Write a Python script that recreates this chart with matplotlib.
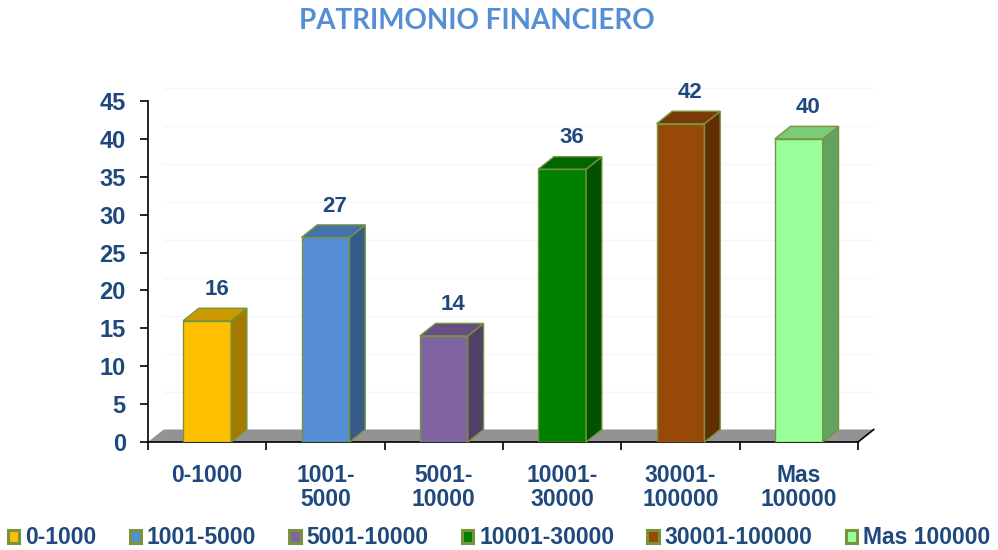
import numpy as np
import matplotlib.pyplot as plt
from matplotlib.patches import Polygon, Patch
from matplotlib.colors import to_rgb

categories = ['0-1000', '1001-5000', '5001-10000', '10001-30000', '30001-100000', 'Mas 100000']
tick_labels = ['0-1000', '1001-\n5000', '5001-\n10000', '10001-\n30000', '30001-\n100000', 'Mas\n100000']
values = [16, 27, 14, 36, 42, 40]
colors = ['#FFC000', '#558ED5', '#8064A2', '#008000', '#984807', '#99FF99']

text_blue = '#1F497D'
edge_olive = '#77933C'
font = 'Liberation Sans'


def shade(c, f):
    return tuple(np.array(to_rgb(c)) * f)


fig = plt.figure(figsize=(9.98, 5.5), dpi=100)
ax = fig.add_axes([148 / 998, 108 / 550, 710 / 998, 341 / 550])

n = len(values)
w = 0.405      # front face width (category units)
dx = 0.133     # depth offset in x
dy = 1.65      # depth offset in y

ax.set_xlim(0, n)
ax.set_ylim(0, 45)

# faint gridlines on the back wall
for g in range(5, 46, 5):
    ax.plot([dx, n + dx], [g + dy, g + dy], color='#F6F6F6', lw=1, zorder=0, clip_on=False)

# floor
floor = Polygon([(0, 0), (n, 0), (n + dx, dy), (dx, dy)], closed=True,
                facecolor='#939393', edgecolor='none', zorder=1, clip_on=False)
ax.add_patch(floor)
ax.plot([n, n + dx], [0, dy], color='black', lw=1.2, zorder=2, clip_on=False)

x = np.arange(n) + 0.5
ax.bar(x, values, width=w, color=colors, edgecolor=edge_olive, linewidth=1, zorder=3)

for xi, v, c in zip(x, values, colors):
    x0, x1 = xi - w / 2, xi + w / 2
    side = Polygon([(x1, 0), (x1 + dx, dy), (x1 + dx, v + dy), (x1, v)], closed=True,
                   facecolor=shade(c, 0.64), edgecolor=edge_olive, lw=1, zorder=3, clip_on=False)
    top = Polygon([(x0, v), (x1, v), (x1 + dx, v + dy), (x0 + dx, v + dy)], closed=True,
                  facecolor=shade(c, 0.8), edgecolor=edge_olive, lw=1, zorder=3, clip_on=False)
    ax.add_patch(side)
    ax.add_patch(top)
    ax.annotate(f'{v}', (xi + dx * 0.6, v + dy), xytext=(0, 6), textcoords='offset points',
                ha='center', va='bottom', fontsize=16, fontweight='bold', color=text_blue,
                family=font, annotation_clip=False)

# axes styling
for s in ['top', 'right']:
    ax.spines[s].set_visible(False)
ax.spines['left'].set_color('black')
ax.spines['bottom'].set_color('black')
ax.spines['left'].set_linewidth(1.2)
ax.spines['bottom'].set_linewidth(1.2)

ax.set_yticks(range(0, 46, 5))
ax.tick_params(axis='y', length=6, width=1.2, pad=10, labelsize=17, labelcolor=text_blue)
for lab in ax.get_yticklabels():
    lab.set_fontweight('bold')
    lab.set_family(font)

ax.set_xticks(x)
ax.set_xticklabels(tick_labels, fontsize=16.5, fontweight='bold', color=text_blue,
                   family=font, linespacing=1.05)
ax.tick_params(axis='x', which='major', length=0, pad=16)
ax.set_xticks(np.arange(n + 1), minor=True)
ax.tick_params(axis='x', which='minor', length=6, width=1.2)

fig.text(0.478, 0.962, 'PATRIMONIO FINANCIERO', ha='center', va='center',
         fontsize=20, fontweight='bold', color='#558ED5', family='Lato')

handles = [Patch(facecolor=c, edgecolor=edge_olive, linewidth=2.2) for c in colors]
leg = fig.legend(handles, categories, loc='center', bbox_to_anchor=(0.5, 0.022), ncol=n,
                 frameon=False, handlelength=0.5, handleheight=0.5, handletextpad=0.25,
                 columnspacing=1.45, prop={'family': font, 'weight': 'bold', 'size': 16.5})
for t in leg.get_texts():
    t.set_color(text_blue)

fig.savefig('out.png', dpi=100)
